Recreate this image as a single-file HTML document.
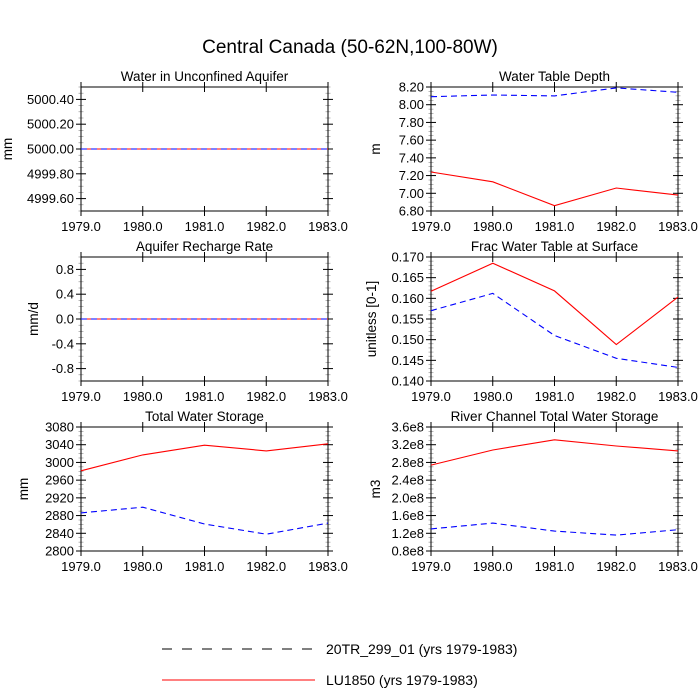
<!DOCTYPE html>
<html><head><meta charset="utf-8"><style>
body{margin:0;background:#fff;}
svg{display:block;font-family:"Liberation Sans",sans-serif;}
</style></head><body>
<svg id="c" width="700" height="700" viewBox="0 0 700 700">
<text x="350" y="53" font-size="19" text-anchor="middle">Central Canada (50-62N,100-80W)</text>
<g>
<line x1="162" y1="649" x2="315" y2="649" stroke="#000" stroke-width="1" stroke-dasharray="10,10"/>
<text x="326" y="654" font-size="14">20TR_299_01 (yrs 1979-1983)</text>
<line x1="162" y1="680" x2="315" y2="680" stroke="#f00" stroke-width="1"/>
<text x="326" y="685" font-size="14">LU1850 (yrs 1979-1983)</text>
</g>
</svg>
<script>
const years=[1979,1980,1981,1982,1983];
const xTickLabels=["1979.0","1980.0","1981.0","1982.0","1983.0"];
const aqRed=[5000,5000,5000,5000,5000];
const aqBlue=[5000,5000,5000,5000,5000];
const wtdRed=[7.24,7.13,6.86,7.06,6.98];
const wtdBlue=[8.09,8.11,8.10,8.19,8.14];
const rchRed=[0,0,0,0,0];
const rchBlue=[0,0,0,0,0];
const fracRed=[0.1617,0.1685,0.1618,0.1488,0.1603];
const fracBlue=[0.1570,0.1612,0.1510,0.1455,0.1433];
const twsRed=[2981,3017,3039,3026,3042];
const twsBlue=[2886,2899,2861,2838,2863];
const rivRed=[2.74,3.08,3.31,3.17,3.06];
const rivBlue=[1.30,1.43,1.25,1.16,1.28];
const aqTicks=[4999.6,4999.8,5000.0,5000.2,5000.4];
const wtdTicks=[6.8,7.0,7.2,7.4,7.6,7.8,8.0,8.2];
const rchTicks=[-0.8,-0.4,0,0.4,0.8];
const fracTicks=[0.140,0.145,0.150,0.155,0.160,0.165,0.170];
const twsTicks=[2800,2840,2880,2920,2960,3000,3040,3080];
const rivTicks=[0.8,1.2,1.6,2.0,2.4,2.8,3.2,3.6];

const svg=document.getElementById('c');
const NS='http://www.w3.org/2000/svg';
function mk(tag,attrs,parent){const e=document.createElementNS(NS,tag);for(const k in attrs)e.setAttribute(k,attrs[k]);(parent||svg).appendChild(e);return e;}

const panels=[
 {name:'water-in-aquifer',title:'Water in Unconfined Aquifer',yt:'mm',x0:81,y0:87,red:aqRed,blue:aqBlue,ticks:aqTicks,ymin:4999.5,ymax:5000.5,minor:0.05,fmt:v=>v.toFixed(2),ytx:12},
 {name:'water-table-depth',title:'Water Table Depth',yt:'m',x0:431,y0:87,red:wtdRed,blue:wtdBlue,ticks:wtdTicks,ymin:6.8,ymax:8.2,minor:0.05,fmt:v=>v.toFixed(2),ytx:380},
 {name:'aquifer-recharge-rate',title:'Aquifer Recharge Rate',yt:'mm/d',x0:81,y0:257,red:rchRed,blue:rchBlue,ticks:rchTicks,ymin:-1,ymax:1,minor:0.1,fmt:v=>v.toFixed(1),ytx:38},
 {name:'frac-water-table',title:'Frac Water Table at Surface',yt:'unitless [0-1]',x0:431,y0:257,red:fracRed,blue:fracBlue,ticks:fracTicks,ymin:0.14,ymax:0.17,minor:0.001,fmt:v=>v.toFixed(3),ytx:376},
 {name:'total-water-storage',title:'Total Water Storage',yt:'mm',x0:81,y0:427,red:twsRed,blue:twsBlue,ticks:twsTicks,ymin:2800,ymax:3080,minor:10,fmt:v=>String(v),ytx:28},
 {name:'river-channel-storage',title:'River Channel Total Water Storage',yt:'m3',x0:431,y0:427,red:rivRed,blue:rivBlue,ticks:rivTicks,ymin:0.8,ymax:3.6,minor:0.1,fmt:v=>v.toFixed(1)+'e8',ytx:380}
];
const W=247,H=124;
panels.forEach(p=>{
 const g=mk('g',{});
 
 
 const xs=v=>p.x0+(v-1979)/4*W;
 const ys=v=>p.y0+H-(v-p.ymin)/(p.ymax-p.ymin)*H;
 const n=Math.round((p.ymax-p.ymin)/p.minor);
 for(let i=0;i<=n;i++){const y=ys(p.ymin+i*p.minor);
  mk('line',{x1:p.x0-2.5,x2:p.x0+2.5,y1:y,y2:y,stroke:'#888','stroke-width':0.6},g);
  mk('line',{x1:p.x0+W-2.5,x2:p.x0+W+2.5,y1:y,y2:y,stroke:'#888','stroke-width':0.6},g);}
 p.ticks.forEach(t=>{const y=ys(t);
  mk('line',{x1:p.x0-5,x2:p.x0+5,y1:y,y2:y,stroke:'#000','stroke-width':1},g);
  mk('line',{x1:p.x0+W-5,x2:p.x0+W+5,y1:y,y2:y,stroke:'#000','stroke-width':1},g);
  const tx=mk('text',{x:p.x0-7,y:y+4.5,'font-size':13,'text-anchor':'end'},g);
  
  
  tx.textContent=p.fmt(t);});
 years.forEach((yr,i)=>{const x=xs(yr);
  mk('line',{x1:x,x2:x,y1:p.y0-5,y2:p.y0+5,stroke:'#000','stroke-width':1},g);
  mk('line',{x1:x,x2:x,y1:p.y0+H-5,y2:p.y0+H+5,stroke:'#000','stroke-width':1},g);
  const tx=mk('text',{x:x,y:p.y0+H+20,'font-size':13,'text-anchor':'middle'},g);
  
  
  tx.textContent=xTickLabels[i];});
 const fr=mk('rect',{x:p.x0,y:p.y0,width:W,height:H,fill:'none',stroke:'#000','stroke-width':1},g);
 
 
 const t=mk('text',{x:p.x0+W/2,y:p.y0-6,'font-size':13.5,'text-anchor':'middle'},g);
 
 
 t.textContent=p.title;
 const yt=mk('text',{x:0,y:0,'font-size':13.5,'text-anchor':'middle',transform:`translate(${p.ytx},${p.y0+H/2}) rotate(-90)`},g);
 
 
 yt.textContent=p.yt;
 const pts=a=>a.map((v,i)=>xs(years[i]).toFixed(1)+','+ys(v).toFixed(1)).join(' ');
 const r=mk('polyline',{points:pts(p.red),fill:'none',stroke:'#f00','stroke-width':1.1},g);
 
 
 const b=mk('polyline',{points:pts(p.blue),fill:'none',stroke:'#00f','stroke-width':1.1,'stroke-dasharray':'6,4'},g);
 
 
});
</script>
</body></html>
